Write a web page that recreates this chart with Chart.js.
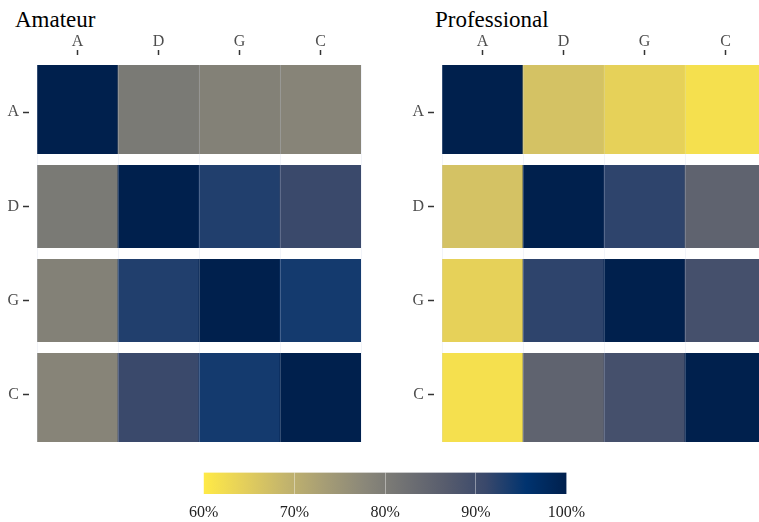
<!DOCTYPE html>
<html>
<head>
<meta charset="utf-8">
<script src="https://cdn.jsdelivr.net/npm/chart.js@4"></script>
<style>
  html, body { margin: 0; padding: 0; background: #fff; }
  body { position: relative; width: 759px; height: 522px; overflow: hidden; }
  canvas { position: absolute; }
  .panel-title {
    position: absolute;
    font-family: 'Liberation Serif', serif;
    font-size: 23px;
    line-height: 23px;
    color: #000;
    white-space: nowrap;
  }
</style>
</head>
<body>
<div class="panel-title" style="left:15px;top:8px">Amateur</div>
<div class="panel-title" style="left:435px;top:8px">Professional</div>
<canvas id="amateur" width="380" height="460" style="left:0;top:0"></canvas>
<canvas id="professional" width="400" height="460" style="left:380px;top:0"></canvas>
<canvas id="legend" width="420" height="67" style="left:180px;top:455px"></canvas>
<script>
// categories (same order on both axes)
const cats = ['A', 'D', 'G', 'C'];

// percent agreement, one array per row
const amateurA = [100, 80.5, 79.0, 78.3];
const amateurD = [80.5, 100, 93.0, 91.0];
const amateurG = [79.0, 93.0, 100, 94.0];
const amateurC = [78.3, 91.0, 94.0, 100];

const proA = [100, 66.7, 64.1, 61.6];
const proD = [66.7, 100, 92.0, 85.2];
const proG = [64.1, 92.0, 100, 89.3];
const proC = [61.6, 85.2, 89.3, 100];

// colour bar
const legendTicks = [60, 70, 80, 90, 100];
const valueMin = 60, valueMax = 100;

// cividis palette, dark end first
const cividis = ['#00204D', '#00336F', '#39486B', '#575C6D', '#707173',
                 '#8A8779', '#A69D75', '#C4B56C', '#E4CF5B', '#FFEA46'];

const serif = 'Liberation Serif';

function hexToRgb(h) {
    return [parseInt(h.slice(1, 3), 16), parseInt(h.slice(3, 5), 16), parseInt(h.slice(5, 7), 16)];
}

// high values dark, low values yellow
function fillFor(v) {
    let t = (valueMax - v) / (valueMax - valueMin);
    t = Math.min(1, Math.max(0, t));
    const pos = t * (cividis.length - 1);
    const i = Math.min(Math.floor(pos), cividis.length - 2);
    const f = pos - i;
    const a = hexToRgb(cividis[i]), b = hexToRgb(cividis[i + 1]);
    const c = a.map((x, k) => Math.round(x + (b[k] - x) * f));
    return 'rgb(' + c.join(',') + ')';
}

function makePanel(id, rows, pad) {
    const datasets = rows.map((row, i) => ({
        data: cats.map((c, j) => ({ x: c, y: [i - 0.5, i + 0.5], v: row[j] })),
        backgroundColor: ctx => fillFor(ctx.raw.v),
        borderWidth: 0,
        barPercentage: 1,
        categoryPercentage: 1,
        grouped: false
    }));

    return new Chart(document.getElementById(id), {
        type: 'bar',
        data: { labels: cats, datasets: datasets },
        options: {
            responsive: false,
            animation: false,
            devicePixelRatio: 1,
            layout: { padding: pad.layout },
            plugins: {
                legend: { display: false },
                tooltip: { enabled: false }
            },
            scales: {
                x: {
                    type: 'category',
                    position: 'top',
                    offset: true,
                    grid: {
                        offset: false,
                        drawOnChartArea: false,
                        tickLength: 15,
                        tickBorderDash: [5, 30],
                        tickColor: '#333',
                        tickWidth: 1.5
                    },
                    border: { display: false },
                    ticks: {
                        color: '#4d4d4d',
                        font: { family: serif, size: 16 },
                        padding: -1,
                        maxRotation: 0
                    },
                    afterFit: s => { s.height = 65; }
                },
                // faint seams between columns
                x2: {
                    type: 'category',
                    position: 'top',
                    offset: true,
                    grid: {
                        offset: true,
                        color: 'rgba(205,210,230,0.25)',
                        lineWidth: 1,
                        drawTicks: false,
                        z: 2
                    },
                    border: { display: false },
                    ticks: { display: false },
                    afterFit: s => { s.height = 0; }
                },
                y: {
                    type: 'linear',
                    position: 'left',
                    min: -0.5,
                    max: 3.5,
                    reverse: true,
                    afterBuildTicks: s => { s.ticks = cats.map((c, i) => ({ value: i })); },
                    grid: {
                        drawOnChartArea: false,
                        tickLength: 14,
                        tickBorderDash: [6, 30],
                        tickColor: '#333',
                        tickWidth: 1.5
                    },
                    border: { display: false },
                    ticks: {
                        color: '#4d4d4d',
                        font: { family: serif, size: 16 },
                        padding: 4,
                        callback: v => cats[v]
                    },
                    afterFit: s => { s.width = pad.yWidth; }
                },
                // white gaps between rows
                y2: {
                    type: 'linear',
                    position: 'left',
                    min: -0.5,
                    max: 3.5,
                    reverse: true,
                    afterBuildTicks: s => { s.ticks = [0.5, 1.5, 2.5].map(v => ({ value: v })); },
                    grid: { color: '#fff', lineWidth: 11, drawTicks: false, z: 1 },
                    border: { display: false },
                    ticks: { display: false },
                    afterFit: s => { s.width = 0; }
                }
            }
        }
    });
}

makePanel('amateur', [amateurA, amateurD, amateurG, amateurC],
    { layout: { left: 0, right: 19, top: 0, bottom: 18 }, yWidth: 37 });

makePanel('professional', [proA, proD, proG, proC],
    { layout: { left: 0, right: 14, top: 0, bottom: 18 }, yWidth: 62 });

// colour bar legend
new Chart(document.getElementById('legend'), {
    type: 'bar',
    data: {
        labels: [''],
        datasets: [{
            data: [[valueMin, valueMax]],
            backgroundColor: ctx => {
                const chart = ctx.chart;
                if (!chart.chartArea) return null;
                const xs = chart.scales.x;
                const x0 = xs.getPixelForValue(valueMin), x1 = xs.getPixelForValue(valueMax);
                const g = chart.ctx.createLinearGradient(x0, 0, x1, 0);
                cividis.forEach((c, i) => g.addColorStop(1 - i / (cividis.length - 1), c));
                return g;
            },
            borderWidth: 0,
            barPercentage: 1,
            categoryPercentage: 1
        }]
    },
    options: {
        indexAxis: 'y',
        responsive: false,
        animation: false,
        devicePixelRatio: 1,
        layout: { padding: { left: 20.5, right: 33.5, top: 17.5, bottom: 0 } },
        plugins: { legend: { display: false }, tooltip: { enabled: false } },
        scales: {
            x: {
                type: 'linear',
                min: valueMin,
                max: valueMax,
                afterBuildTicks: s => { s.ticks = legendTicks.map(v => ({ value: v })); },
                grid: {
                    color: ctx => (ctx.tick && (ctx.tick.value === valueMin || ctx.tick.value === valueMax))
                        ? 'rgba(0,0,0,0)' : 'rgba(255,255,255,0.4)',
                    lineWidth: 1,
                    drawTicks: false,
                    z: 1
                },
                border: { display: false },
                ticks: {
                    color: '#222',
                    font: { family: serif, size: 16 },
                    padding: 9,
                    maxRotation: 0,
                    callback: v => v + '%'
                },
                afterFit: s => { s.height = 28; }
            },
            y: { display: false }
        }
    }
});
</script>
</body>
</html>
